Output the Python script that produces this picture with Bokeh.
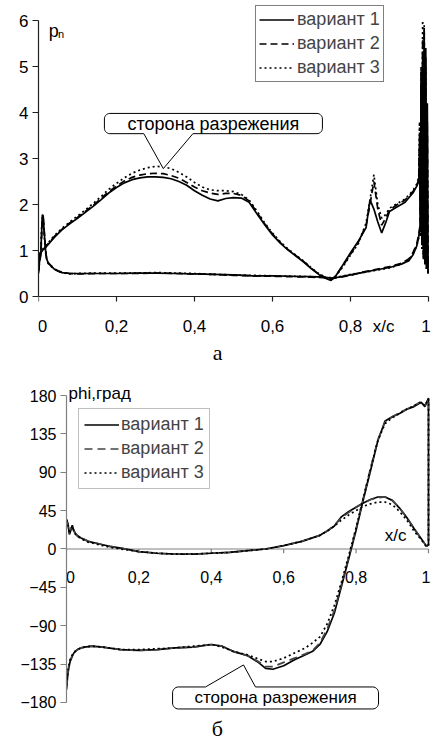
import numpy as np
from bokeh.plotting import figure
from bokeh.models import Range1d, FixedTicker, Legend, LegendItem
from bokeh.core.properties import value
from bokeh.embed import file_html
from bokeh.resources import INLINE

FONT = "Liberation Sans"

# ---------------- chart (а): p_n versus x/c ----------------
x_ticks = [0.0, 0.2, 0.4, 0.6, 0.8, 1.0]
x_tick_labels = ["0", "0,2", "0,4", "0,6", "0,8", "1"]
pn_ticks = [0, 1, 2, 3, 4, 5, 6]

pn_x_suction = [0.0, 0.003, 0.006, 0.01, 0.02, 0.04, 0.06, 0.08, 0.10, 0.12, 0.14, 0.16, 0.18,
                0.20, 0.22, 0.24, 0.26, 0.28, 0.30, 0.32, 0.34, 0.36, 0.38, 0.40, 0.42, 0.44,
                0.46, 0.48, 0.50, 0.52, 0.54, 0.56, 0.58, 0.60, 0.62, 0.64, 0.66, 0.68, 0.70,
                0.72, 0.74, 0.75, 0.76, 0.78, 0.80, 0.82, 0.84, 0.85, 0.86, 0.87, 0.88, 0.89,
                0.90, 0.92, 0.94, 0.96, 0.97, 0.975, 0.977, 0.979, 0.981, 0.983, 0.985, 0.987,
                0.989, 0.991, 0.993, 0.995, 0.997, 0.999]
pn_suction_v1 = [0.55, 0.9, 0.95, 1.0, 1.08, 1.28, 1.45, 1.58, 1.7, 1.83, 1.96, 2.1, 2.25,
                 2.37, 2.47, 2.54, 2.58, 2.6, 2.6, 2.59, 2.56, 2.5, 2.42, 2.3, 2.2, 2.12,
                 2.08, 2.13, 2.15, 2.14, 2.05, 1.8, 1.56, 1.34, 1.16, 1.01, 0.88, 0.75, 0.6,
                 0.47, 0.38, 0.35, 0.42, 0.68, 0.95, 1.2, 1.5, 2.1, 1.9, 1.62, 1.38, 1.6,
                 1.85, 1.95, 2.05, 2.25, 2.4, 2.5, 3.2, 1.6, 4.6, 1.2, 5.3, 0.9,
                 5.8, 0.7, 5.4, 0.6, 4.2, 0.5]
pn_suction_v2 = [0.6, 0.9, 0.96, 1.0, 1.1, 1.3, 1.46, 1.6, 1.72, 1.85, 1.98, 2.13, 2.28,
                 2.4, 2.51, 2.59, 2.64, 2.67, 2.68, 2.67, 2.63, 2.57, 2.48, 2.38, 2.3, 2.25,
                 2.22, 2.24, 2.24, 2.2, 2.08, 1.83, 1.58, 1.36, 1.17, 1.02, 0.89, 0.76, 0.61,
                 0.48, 0.39, 0.36, 0.43, 0.66, 0.92, 1.18, 1.55, 2.0, 2.5, 1.9, 1.55, 1.7,
                 1.88, 2.0, 2.1, 2.28, 2.42, 2.55, 3.5, 1.4, 4.9, 1.1, 5.6, 0.8,
                 5.7, 0.7, 5.2, 0.6, 3.8, 0.5]
pn_suction_v3 = [0.6, 0.92, 0.97, 1.02, 1.12, 1.32, 1.48, 1.62, 1.75, 1.88, 2.02, 2.17, 2.33,
                 2.46, 2.58, 2.68, 2.75, 2.8, 2.83, 2.82, 2.78, 2.7, 2.6, 2.48, 2.38, 2.32,
                 2.3, 2.3, 2.28, 2.22, 2.1, 1.86, 1.6, 1.38, 1.19, 1.03, 0.9, 0.77, 0.62,
                 0.49, 0.4, 0.37, 0.42, 0.64, 0.9, 1.15, 1.6, 2.1, 2.65, 2.0, 1.7, 1.78,
                 1.92, 2.02, 2.12, 2.3, 2.45, 2.6, 3.8, 1.3, 5.0, 1.0, 6.0, 0.8,
                 5.9, 0.7, 5.0, 0.6, 3.5, 0.5]

pn_x_pressure = [0.0, 0.003, 0.006, 0.008, 0.01, 0.012, 0.015, 0.018, 0.02, 0.025, 0.03,
                 0.04, 0.05, 0.06, 0.08, 0.1, 0.15, 0.2, 0.25, 0.3, 0.35, 0.4, 0.45, 0.5,
                 0.55, 0.6, 0.65, 0.7, 0.73, 0.75, 0.77, 0.8, 0.83, 0.86, 0.9, 0.93, 0.95,
                 0.96, 0.97, 0.975, 0.98]
pn_pressure_v1 = [0.5, 0.8, 0.95, 1.4, 1.78, 1.75, 1.35, 1.0, 0.85, 0.72, 0.68,
                  0.6, 0.55, 0.52, 0.5, 0.5, 0.5, 0.5, 0.51, 0.51, 0.5, 0.49, 0.48, 0.47,
                  0.45, 0.45, 0.44, 0.43, 0.42, 0.4, 0.42, 0.47, 0.52, 0.57, 0.63, 0.7, 0.78,
                  0.9, 1.1, 1.3, 1.6]
pn_pressure_v2 = [0.55, 0.75, 0.9, 1.3, 1.7, 1.72, 1.4, 1.05, 0.88, 0.74, 0.69,
                  0.61, 0.56, 0.53, 0.5, 0.49, 0.5, 0.5, 0.5, 0.51, 0.5, 0.49, 0.48, 0.46,
                  0.45, 0.44, 0.43, 0.42, 0.41, 0.39, 0.41, 0.46, 0.53, 0.58, 0.65, 0.72, 0.82,
                  0.95, 1.15, 1.35, 1.65]
pn_pressure_v3 = [0.6, 0.85, 1.0, 1.5, 1.75, 1.7, 1.3, 0.98, 0.84, 0.72, 0.67,
                  0.6, 0.55, 0.52, 0.49, 0.5, 0.51, 0.51, 0.51, 0.52, 0.51, 0.5, 0.48, 0.47,
                  0.46, 0.45, 0.44, 0.43, 0.42, 0.41, 0.43, 0.48, 0.52, 0.56, 0.62, 0.7, 0.8,
                  0.92, 1.1, 1.28, 1.55]

# ---------------- chart (б): phi versus x/c ----------------
phi_ticks = [-180, -135, -90, -45, 0, 45, 90, 135, 180]

phi_x_upper = [0.0, 0.004, 0.008, 0.012, 0.016, 0.02, 0.025, 0.03, 0.04, 0.05, 0.06, 0.08,
               0.10, 0.12, 0.15, 0.2, 0.25, 0.3, 0.35, 0.4, 0.45, 0.5, 0.55, 0.6, 0.65, 0.7,
               0.72, 0.74, 0.76, 0.78, 0.8, 0.82, 0.84, 0.86, 0.88, 0.9, 0.92, 0.94, 0.96,
               0.98, 0.99, 0.995, 1.0]
phi_upper_v1 = [35, 30, 17, 22, 28, 22, 18, 16, 13, 11, 9, 7,
                5, 3, 1, -3, -5, -6, -6, -5, -4, -2, 0, 4, 9, 16,
                21, 27, 38, 44, 49, 54, 58, 61, 61, 57, 48, 37, 24,
                12, 6, 3, 5]
phi_upper_v2 = [33, 28, 18, 24, 27, 21, 18, 15, 13, 11, 9, 7,
                5, 3, 1, -3, -5, -6, -6, -5, -4, -2, 0, 4, 9, 16,
                21, 28, 37, 43, 49, 54, 58, 60, 61, 57, 48, 37, 24,
                12, 6, 3, 5]
phi_upper_v3 = [34, 29, 18, 23, 27, 21, 17, 15, 12, 10, 8, 6,
                4, 2, 0, -3, -5, -6, -6, -5, -4, -2, 0, 4, 9, 16,
                21, 27, 34, 40, 45, 50, 53, 55, 55, 52, 44, 34, 21,
                11, 5, 3, 5]

phi_x_lower = [0.0, 0.003, 0.006, 0.01, 0.015, 0.02, 0.03, 0.04, 0.05, 0.07,
               0.1, 0.15, 0.2, 0.25, 0.3, 0.35, 0.4,
               0.43, 0.46, 0.5, 0.53, 0.55, 0.57, 0.6, 0.63, 0.66, 0.68, 0.7,
               0.72, 0.74, 0.76, 0.78, 0.8, 0.82, 0.84, 0.86, 0.88, 0.9, 0.92, 0.94, 0.96, 0.98,
               0.99, 1.0, 1.0]
phi_lower_v1 = [-165, -150, -140, -132, -127, -122, -118, -116, -115, -114,
                -115, -118, -119, -118, -116, -115, -112,
                -114, -120, -125, -133, -140, -141, -137, -130, -124, -120, -112,
                -97, -75, -43, -11, 22, 58, 92, 127, 150, 155, 159, 164, 167, 172,
                167, 177, 4]
phi_lower_v2 = [-162, -148, -138, -130, -126, -121, -118, -116, -115, -114,
                -115, -118, -119, -118, -116, -115, -112,
                -114, -120, -125, -132, -138, -138, -133, -128, -123, -119, -110,
                -94, -72, -41, -9, 24, 60, 95, 128, 149, 155, 160, 164, 168, 173,
                168, 176, 4]
phi_lower_v3 = [-160, -146, -137, -130, -125, -121, -118, -116, -115, -114,
                -115, -118, -118, -117, -116, -114, -112,
                -115, -120, -124, -129, -132, -132, -128, -122, -116, -110, -103,
                -88, -66, -38, -7, 25, 60, 94, 127, 147, 154, 159, 164, 168, 172,
                168, 176, 4]

series_names = ["вариант 1", "вариант 2", "вариант 3"]
callout_text = "сторона разрежения"
# callout geometry in data units: box x0, x1, y_bottom, y_top, base_left, base_right, tip_x, tip_y
callout_a = [0.169, 0.728, 3.54, 3.98, 0.27, 0.396, 0.32, 2.78]
callout_b = [0.293, 0.862, -187.6, -161.8, 0.384, 0.522, 0.489, -136]


def callout_poly(x0, x1, yb, yt, bl, br, tx, ty, rx, ry, side):
    xs, ys = [], []

    def arc(cx, cy, a0, a1):
        t = np.linspace(np.radians(a0), np.radians(a1), 8)
        xs.extend((cx + rx * np.cos(t)).tolist())
        ys.extend((cy + ry * np.sin(t)).tolist())

    xs.append(x0 + rx); ys.append(yb)
    if side == "bottom":
        xs += [bl, tx, br]; ys += [yb, ty, yb]
    arc(x1 - rx, yb + ry, -90, 0)
    arc(x1 - rx, yt - ry, 0, 90)
    if side == "top":
        xs += [br, tx, bl]; ys += [yt, ty, yt]
    arc(x0 + rx, yt - ry, 90, 180)
    arc(x0 + rx, yb + ry, 180, 270)
    return xs, ys


def style_yaxis(axis, ticks, bounds, color, size):
    axis.ticker = FixedTicker(ticks=ticks)
    axis.bounds = bounds
    axis.minor_tick_line_color = None
    axis.major_tick_in = 0
    axis.major_tick_out = 6
    axis.axis_line_color = color
    axis.axis_line_width = 1.2
    axis.major_tick_line_color = color
    axis.major_tick_line_width = 1.2
    axis.major_label_standoff = 4
    axis.major_label_text_font = FONT
    axis.major_label_text_font_size = size
    axis.major_label_text_color = "black"


def draw_xaxis(p, y_axis, tick_len, label_y, color, size):
    # horizontal x/c axis drawn through the given y value (the chart's own scale)
    p.segment(x0=[x_ticks[0]], y0=[y_axis], x1=[x_ticks[-1]], y1=[y_axis],
              line_color=color, line_width=1.2)
    p.segment(x0=x_ticks, y0=[y_axis] * len(x_ticks), x1=x_ticks,
              y1=[y_axis - tick_len] * len(x_ticks), line_color=color, line_width=1.2)
    # the end labels sit on the frame edges: nudge them inside so they are not clipped
    nudge = [4.0] + [0.0] * (len(x_ticks) - 2) + [-2.5]
    p.text(x=x_ticks, y=[label_y] * len(x_ticks), text=x_tick_labels, text_align="center",
           text_baseline="middle", text_font=value(FONT), text_font_size=size,
           text_color="black", x_offset=nudge)


def txt(p, x, y, s, size, font=FONT, align="left"):
    p.text(x=[x], y=[y], text=[s], text_align=align, text_baseline="middle",
           text_font=value(font), text_font_size=size, text_color="black")


dashes = ["solid", "7 4", "2 3"]

# ================= figure (а) =================
p1 = figure(width=431, height=365, x_range=Range1d(0, 1.0077), y_range=Range1d(-1.5, 6.435),
            output_backend="svg", toolbar_location=None,
            min_border_left=38, min_border_right=0, min_border_top=0, min_border_bottom=0)
p1.outline_line_color = None
p1.grid.visible = False
p1.xaxis.visible = False

draw_xaxis(p1, 0, 0.11, -0.65, "#202020", "17px")

rend1 = []
for ys, dash in zip([pn_suction_v1, pn_suction_v2, pn_suction_v3], dashes):
    r = p1.line(pn_x_suction, ys, line_color="black", line_width=1.7, line_dash=dash)
    rend1.append(r)
for ys, dash in zip([pn_pressure_v1, pn_pressure_v2, pn_pressure_v3], dashes):
    p1.line(pn_x_pressure, ys, line_color="black", line_width=1.7, line_dash=dash)

cx, cy = callout_poly(*callout_a, rx=0.014, ry=0.12, side="bottom")
p1.patch(cx, cy, fill_color="white", line_color="black", line_width=1)
txt(p1, (callout_a[0] + callout_a[1]) / 2, (callout_a[2] + callout_a[3]) / 2, callout_text,
    "18px", align="center")

style_yaxis(p1.yaxis[0], pn_ticks, (0, 6), "#202020", "17px")

leg1 = Legend(items=[LegendItem(label=n, renderers=[r]) for n, r in zip(series_names, rend1)],
              location=(217, 283), margin=0, padding=3, spacing=3,
              label_height=21, glyph_height=21, glyph_width=35, label_standoff=3,
              label_text_font=FONT, label_text_font_size="18px",
              border_line_color="black", border_line_width=1, background_fill_alpha=1)
p1.add_layout(leg1)

txt(p1, 0.026, 5.78, "p", "18px")
txt(p1, 0.05, 5.70, "n", "11px")
txt(p1, 0.885, -0.65, "x/c", "17px", align="center")
txt(p1, 0.459, -1.22, "а", "22px", font="Liberation Serif", align="center")

# ================= figure (б) =================
GREY = "#808080"
p2 = figure(width=431, height=382, x_range=Range1d(0, 1.0083), y_range=Range1d(-232.8, 215.2),
            output_backend="svg", toolbar_location=None,
            min_border_left=66, min_border_right=0, min_border_top=0, min_border_bottom=0)
p2.outline_line_color = None
p2.grid.visible = False
p2.xaxis.visible = False

draw_xaxis(p2, 0, 5, -33, GREY, "16px")

dashes2 = ["solid", "8 5", "2 3"]
colors2 = ["black", "#444444", "black"]
rend2 = []
for ys, dash, c in zip([phi_upper_v1, phi_upper_v2, phi_upper_v3], dashes2, colors2):
    r = p2.line(phi_x_upper, ys, line_color=c, line_width=1.7, line_dash=dash)
    rend2.append(r)
for ys, dash, c in zip([phi_lower_v1, phi_lower_v2, phi_lower_v3], dashes2, colors2):
    p2.line(phi_x_lower, ys, line_color=c, line_width=1.7, line_dash=dash)

cx, cy = callout_poly(*callout_b, rx=0.016, ry=7.0, side="top")
p2.patch(cx, cy, fill_color="white", line_color="black", line_width=1)
txt(p2, (callout_b[0] + callout_b[1]) / 2, (callout_b[2] + callout_b[3]) / 2, callout_text,
    "17px", align="center")
txt(p2, 0.909, 16, "x/c", "17px", align="center")

style_yaxis(p2.yaxis[0], phi_ticks, (-180, 180), GREY, "16px")

leg2 = Legend(items=[LegendItem(label=n, renderers=[r]) for n, r in zip(series_names, rend2)],
              location=(12, 258), margin=0, padding=5, spacing=3,
              label_height=21, glyph_height=21, glyph_width=35, label_standoff=2,
              label_text_font=FONT, label_text_font_size="18px",
              border_line_color=GREY, border_line_width=1.2, background_fill_alpha=1)
p2.add_layout(leg2)

txt(p2, 0.0055, 181.8, "phi,град", "17px")
txt(p2, 0.417, -211, "б", "22px", font="Liberation Serif", align="center")

open("out.html", "w").write(file_html([p1, p2], INLINE))
